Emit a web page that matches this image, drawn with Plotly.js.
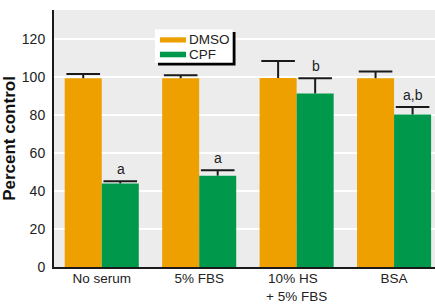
<!DOCTYPE html>
<html>
<head>
<meta charset="utf-8">
<script src="https://cdn.plot.ly/plotly-3.0.1.min.js"></script>
<style>html,body{margin:0;padding:0;background:#fff;}#chart{width:435px;height:304px;}</style>
</head>
<body>
<div id="chart"></div>
<script>
var categories = ["No serum", "5% FBS", "10% HS\u00A0\u00A0<br>+ 5% FBS", "BSA"];
var seriesNames = ["DMSO", "CPF"];
var dmsoValues = [99.4, 99.4, 99.5, 99.4];
var dmsoErrors = [2.2, 1.6, 9.0, 3.5];
var cpfValues = [44.0, 48.1, 91.4, 80.3];
var cpfErrors = [1.1, 2.8, 8.0, 3.9];
var cpfLabels = ["a", "a", "b", "a,b"];
var yTicks = [0, 20, 40, 60, 80, 100, 120];

var FONT = "'Liberation Sans', Arial, sans-serif";
var ORANGE = "#EDA000";
var GREEN = "#00984A";
var TXT = "#222222";
var GAP = 0.24;

function tops(v, e) { return v.map(function(val, i){ return val + e[i]; }); }

// error bar: cap marker at top, stem drawn downward to the bar top
function errTrace(name, vals, errs) {
  return {type: "scatter", mode: "markers", name: name + " error", showlegend: false,
          x: categories, y: tops(vals, errs), hoverinfo: "none",
          marker: {symbol: "line-ew", size: 24, color: "#1a1a1a", line: {width: 2, color: "#1a1a1a"}},
          error_y: {type: "data", symmetric: false, array: errs.map(function(){return 0;}),
                    arrayminus: errs, color: "#1a1a1a", thickness: 2, width: 0}};
}

var traces = [
  {type: "bar", name: seriesNames[0], x: categories, y: dmsoValues, marker: {color: ORANGE}, hoverinfo: "none"},
  {type: "bar", name: seriesNames[1], x: categories, y: cpfValues, marker: {color: GREEN}, hoverinfo: "none"},
  errTrace(seriesNames[0], dmsoValues, dmsoErrors),
  errTrace(seriesNames[1], cpfValues, cpfErrors)
];

var annotations = cpfLabels.map(function(t, i) {
  return {text: t, x: categories[i], y: cpfValues[i] + cpfErrors[i], xref: "x", yref: "y",
          xshift: 19, yshift: 2, yanchor: "bottom", xanchor: "center", showarrow: false,
          font: {family: FONT, size: 14, color: TXT}};
});
annotations.push({text: seriesNames[0], x: 0.349, y: 0.884, xref: "paper", yref: "paper",
  xanchor: "left", yanchor: "middle", showarrow: false, font: {family: FONT, size: 13.5, color: TXT}});
annotations.push({text: seriesNames[1], x: 0.349, y: 0.826, xref: "paper", yref: "paper",
  xanchor: "left", yanchor: "middle", showarrow: false, font: {family: FONT, size: 13.5, color: TXT}});

var shapes = [
  {type: "rect", xref: "paper", yref: "paper", x0: 0.273, x1: 0.4764, y0: 0.784, y1: 0.914,
   fillcolor: "#000", line: {width: 0}},
  {type: "rect", xref: "paper", yref: "paper", x0: 0.2651, x1: 0.469, y0: 0.795, y1: 0.925,
   fillcolor: "#fff", line: {width: 0}},
  {type: "rect", xref: "paper", yref: "paper", x0: 0.278, x1: 0.3465, y0: 0.8735, y1: 0.8938,
   fillcolor: ORANGE, line: {width: 0}},
  {type: "rect", xref: "paper", yref: "paper", x0: 0.278, x1: 0.3465, y0: 0.816, y1: 0.8377,
   fillcolor: GREEN, line: {width: 0}}
];

var layout = {
  width: 435, height: 304,
  margin: {l: 54, r: 0, t: 10, b: 37, pad: 0},
  paper_bgcolor: "#fff",
  plot_bgcolor: "#ECECEC",
  barmode: "group",
  bargap: GAP,
  bargroupgap: 0,
  scattermode: "group",
  scattergap: GAP,
  showlegend: false,
  font: {family: FONT, color: TXT},
  xaxis: {type: "category", range: [-0.49, 3.42], showgrid: false, zeroline: false,
          showline: true, linecolor: "#1a1a1a", linewidth: 2, ticks: "",
          ticklabelstandoff: -2,
          tickfont: {family: FONT, size: 13.5, color: TXT}, fixedrange: true},
  yaxis: {range: [0, 135.3], tickvals: yTicks, ticktext: yTicks.map(String),
          showgrid: true, gridcolor: "#ffffff", gridwidth: 2, zeroline: false,
          showline: true, linecolor: "#1a1a1a", linewidth: 2, ticks: "",
          ticklabelstandoff: 4,
          tickfont: {family: FONT, size: 14, color: TXT},
          title: {text: "<b>Percent control</b>", font: {family: FONT, size: 17, color: "#111"}, standoff: 10},
          fixedrange: true},
  annotations: annotations,
  shapes: shapes
};

Plotly.newPlot("chart", traces, layout, {displayModeBar: false, staticPlot: true});
</script>
</body>
</html>
